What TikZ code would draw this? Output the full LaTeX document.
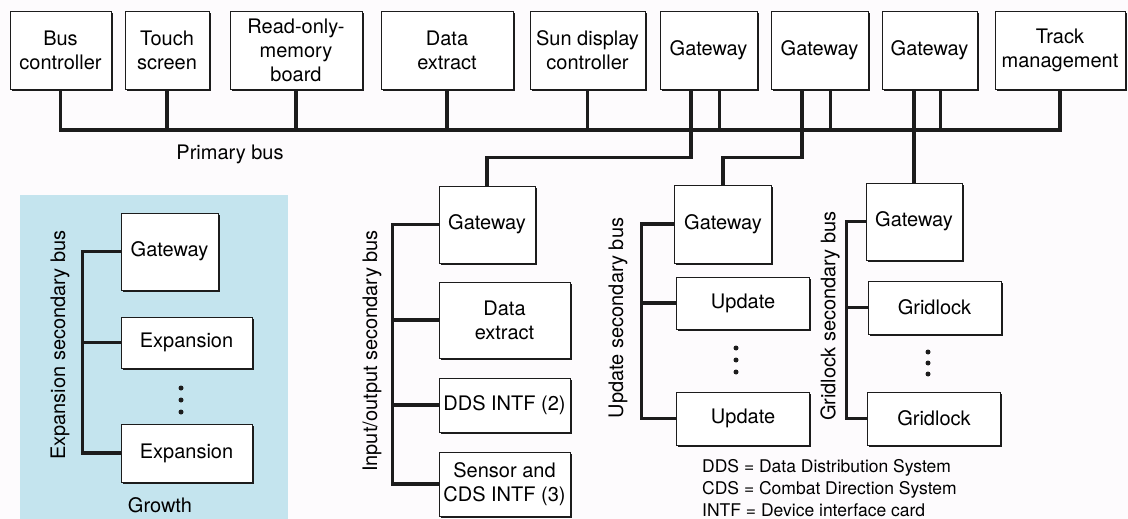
\documentclass[tikz,border=0pt]{standalone}
\usepackage{fontspec}
\setmainfont{TeX Gyre Heros}
\usetikzlibrary{shadows}
\definecolor{ink}{RGB}{28,28,28}
\definecolor{paper}{RGB}{253,251,253}
\definecolor{panel}{RGB}{196,228,238}
\tikzset{
  unit/.style={draw=ink, line width=0.9pt, fill=white, align=center, inner sep=2pt,
    drop shadow={shadow xshift=1.6pt, shadow yshift=-1.6pt, fill=ink, opacity=1}},
  bus/.style={draw=ink, line width=3.4pt, line join=miter, line cap=butt},
  busdot/.style={fill=ink, circle, inner sep=0pt, minimum size=5pt},
  buslabel/.style={rotate=90, inner sep=0pt},
  legendtext/.style={font=\fontsize{17.5}{22}\selectfont, align=left, anchor=north west, inner sep=0pt}
}
\begin{document}
\begin{tikzpicture}[x=1pt, y=-1pt, font=\fontsize{20}{24}\selectfont]
\useasboundingbox (0,0) rectangle (1128,519);
\fill[paper] (0,0) rectangle (1128,519);

% growth panel
\fill[panel] (20,195) rectangle (288,519);

% primary bus units
\node[unit, minimum width=101pt, minimum height=78pt] (busctl) at (60.5,50) {Bus\\controller};
\node[unit, minimum width=84pt,  minimum height=78pt] (touch)  at (167,50)  {Touch\\screen};
\node[unit, minimum width=132pt, minimum height=78pt] (rom)    at (296,50)  {Read-only-\\memory\\board};
\node[unit, minimum width=132pt, minimum height=78pt] (dext)   at (447,50)  {Data\\extract};
\node[unit, minimum width=115pt, minimum height=78pt] (sun)    at (587.5,50) {Sun display\\controller};
\node[unit, minimum width=97pt,  minimum height=78pt] (gw1)    at (708.5,50) {Gateway};
\node[unit, minimum width=97pt,  minimum height=78pt] (gw2)    at (819.5,50) {Gateway};
\node[unit, minimum width=95pt,  minimum height=78pt] (gw3)    at (929.5,50) {Gateway};
\node[unit, minimum width=130pt, minimum height=78pt] (track)  at (1060,50)  {Track\\management};

\coordinate (busy) at (0,130);
\node (pbus) at (230,154) {Primary bus};

% expansion secondary bus
\node[unit, minimum width=97pt,  minimum height=77pt] (exgw) at (169.5,251.5) {Gateway};
\node[unit, minimum width=131pt, minimum height=51pt] (ex1)  at (186.5,342.5) {Expansion};
\node[unit, minimum width=131pt, minimum height=58pt] (ex2)  at (186.5,453)   {Expansion};
\node[busdot] (exd1) at (181,388) {};
\node[busdot] (exd2) at (181,400) {};
\node[busdot] (exd3) at (181,412) {};
\node[buslabel] (exlbl) at (60,345) {Expansion secondary bus};
\node (growth) at (160,505) {Growth};

% input/output secondary bus
\node[unit, minimum width=96pt,  minimum height=77pt] (iogw)   at (487,224.5) {Gateway};
\node[unit, minimum width=131pt, minimum height=76pt] (iodext) at (504.5,320) {Data\\extract};
\node[unit, minimum width=131pt, minimum height=54pt] (dds)    at (504.5,405) {DDS INTF (2)};
\node[unit, minimum width=131pt, minimum height=64pt] (sensor) at (504.5,484) {Sensor and\\CDS INTF (3)};
\node[buslabel] (iolbl) at (372,351) {Input/output secondary bus};

% update secondary bus
\node[unit, minimum width=97pt,  minimum height=78pt] (upgw) at (723,224)   {Gateway};
\node[unit, minimum width=133pt, minimum height=52pt] (up1)  at (743,303)   {Update};
\node[unit, minimum width=133pt, minimum height=53pt] (up2)  at (743,418.5) {Update};
\node[busdot] (upd1) at (736,348) {};
\node[busdot] (upd2) at (736,360) {};
\node[busdot] (upd3) at (736,372) {};
\node[buslabel] (uplbl) at (618,318) {Update secondary bus};

% gridlock secondary bus
\node[unit, minimum width=96pt,  minimum height=77pt] (grgw) at (914,221.5) {Gateway};
\node[unit, minimum width=133pt, minimum height=53pt] (gr1)  at (934.5,307.5) {Gridlock};
\node[unit, minimum width=133pt, minimum height=53pt] (gr2)  at (934,418.5)   {Gridlock};
\node[busdot] (grd1) at (928,352) {};
\node[busdot] (grd2) at (928,363) {};
\node[busdot] (grd3) at (928,374) {};
\node[buslabel] (grlbl) at (830,316) {Gridlock secondary bus};

% legend
\node[legendtext] (legend) at (702,459) {DDS = Data Distribution System\\CDS = Combat Direction System\\INTF = Device interface card};

% primary bus and its taps
\draw[bus] (busctl.south) -- (busctl.south |- busy) -- (track.south |- busy) -- (track.south);
\draw[bus] (touch.south) -- ++(0,41);
\draw[bus] (rom.south) -- ++(0,41);
\draw[bus] (dext.south) -- ++(0,41);
\draw[bus] (sun.south) -- ++(0,41);
\draw[bus] ([xshift=11pt]gw1.south) -- ++(0,41);
\draw[bus] ([xshift=11pt]gw2.south) -- ++(0,41);
\draw[bus] ([xshift=11pt]gw3.south) -- ++(0,41);

% gateway links down to the secondary buses
\draw[bus] ([xshift=-17.5pt]gw1.south) -- ++(0,68) -| (iogw.north);
\draw[bus] ([xshift=-17.5pt]gw2.south) -- ++(0,68) -| (upgw.north);
\draw[bus] (grgw.north |- gw3.south) -- (grgw.north);

% expansion bus
\draw[bus] (exgw.west) -- ++(-38,0) coordinate (exbus) |- (ex2.west);
\draw[bus] (ex1.west) -- (ex1.west -| exbus);

% input/output bus
\draw[bus] (iogw.west) -- ++(-46,0) coordinate (iobus) |- (sensor.west);
\draw[bus] (iodext.west) -- (iodext.west -| iobus);
\draw[bus] (dds.west) -- (dds.west -| iobus);

% update bus
\draw[bus] (upgw.west) -- ++(-32.5,0) coordinate (upbus) |- (up2.west);
\draw[bus] (up1.west) -- (up1.west -| upbus);

% gridlock bus
\draw[bus] (grgw.west) -- ++(-19,0) coordinate (grbus) |- (gr2.west);
\draw[bus] (gr1.west) -- (gr1.west -| grbus);
\end{tikzpicture}
\end{document}
